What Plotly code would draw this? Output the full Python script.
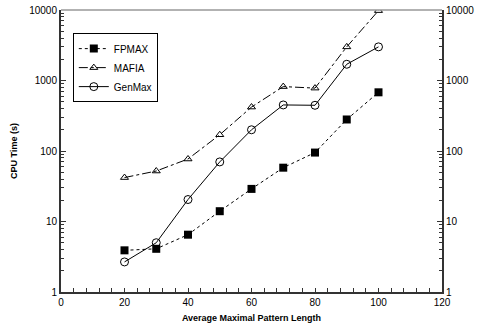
import plotly.graph_objects as go

x_vals = [20, 30, 40, 50, 60, 70, 80, 90, 100]
fpmax = [3.9, 4.1, 6.5, 14, 29, 58, 95, 280, 680]
mafia = [42, 52, 77, 170, 420, 820, 780, 3000, 9800]
genmax = [2.67, 5.0, 20.5, 70, 200, 450, 445, 1700, 3000]

x_ticks = [0, 20, 40, 60, 80, 100, 120]
y_ticks = [1, 10, 100, 1000, 10000]
y_minor = [m * d for d in [1, 10, 100, 1000] for m in range(2, 10)]

font = "Liberation Sans, Arial, sans-serif"

fig = go.Figure()
fig.add_trace(go.Scatter(x=x_vals, y=fpmax, name="FPMAX", mode="lines+markers",
                         line=dict(color="black", width=1, dash="dot"),
                         marker=dict(symbol="square", size=8, color="black")))
fig.add_trace(go.Scatter(x=x_vals, y=mafia, name="MAFIA", mode="lines+markers",
                         line=dict(color="black", width=1, dash="dashdot"),
                         marker=dict(symbol="triangle-up-open", size=7, color="black", line=dict(width=1))))
fig.add_trace(go.Scatter(x=x_vals, y=genmax, name="GenMax", mode="lines+markers",
                         line=dict(color="black", width=1),
                         marker=dict(symbol="circle-open", size=8, color="black", line=dict(width=1))))
for ax in ["y2", "y3", "y4"]:
    fig.add_trace(go.Scatter(x=[], y=[], yaxis=ax, showlegend=False, hoverinfo="skip"))

yaxis_common = dict(type="log", range=[0, 4], tickvals=y_ticks, ticktext=[str(v) for v in y_ticks],
                    ticks="inside", ticklen=5, tickwidth=1, tickcolor="#333", showline=True, linecolor="#333",
                    linewidth=2, showgrid=False, zeroline=False, automargin=False,
                    tickfont=dict(family=font, size=10, color="black"))
minor_common = dict(type="log", range=[0, 4], tickvals=y_minor, ticks="inside", ticklen=3, tickwidth=1,
                    tickcolor="#333", showline=False, showgrid=False, zeroline=False,
                    showticklabels=False, automargin=False, overlaying="y", anchor="x")

fig.update_layout(
    width=477, height=335,
    margin=dict(l=61, r=35, t=10, b=43),
    plot_bgcolor="white", paper_bgcolor="white",
    font=dict(family=font, size=10, color="black"),
    xaxis=dict(range=[0, 120], tickvals=x_ticks, ticks="inside", ticklen=4, tickwidth=1, tickcolor="#333",
               showline=True, linecolor="#333", linewidth=2, showgrid=False, zeroline=False,
               automargin=False,
               tickfont=dict(family=font, size=10, color="black"),
               minor=dict(ticks="inside", ticklen=4, dtick=4, tick0=0, tickcolor="#333", showgrid=False),
               title=dict(text="<b>Average Maximal Pattern Length</b>", font=dict(family=font, size=9), standoff=8)),
    yaxis=dict(**yaxis_common,
               title=dict(text="<b>CPU Time (s)</b>", font=dict(family=font, size=9), standoff=10)),
    yaxis2=dict(**yaxis_common, overlaying="y", side="right", anchor="x"),
    yaxis3=dict(**minor_common, side="left"),
    yaxis4=dict(**minor_common, side="right"),
    legend=dict(x=0.031, y=0.918, xanchor="left", yanchor="top", bordercolor="black", borderwidth=1,
                bgcolor="white", font=dict(family=font, size=10), itemwidth=30,
                tracegroupgap=0),
    shapes=[dict(type="line", xref="paper", yref="paper", x0=0, x1=1, y0=1, y1=1,
                 line=dict(color="#999", width=1.5))],
    showlegend=True,
)

fig.write_html("out.html", config={"displayModeBar": False},
               post_script="document.body.style.margin='0';")
